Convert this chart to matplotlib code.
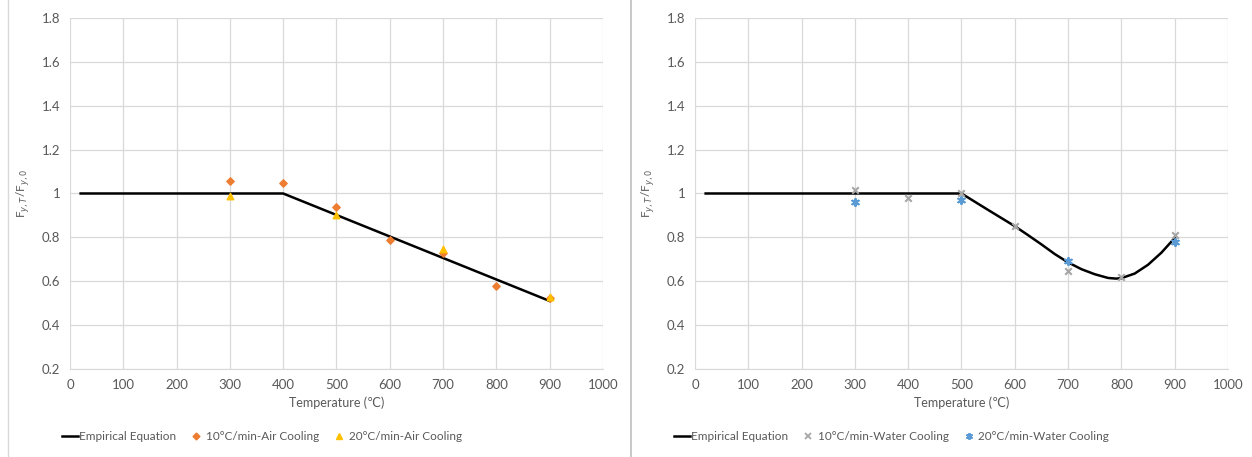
import matplotlib
matplotlib.use("Agg")
import matplotlib.pyplot as plt
from matplotlib.lines import Line2D

plt.rcParams['font.family'] = ['Lato', 'DejaVu Sans']

# Air cooling panel
air_eq_x = [20, 400, 900]
air_eq_y = [1.0, 1.0, 0.51]
air10_x = [300, 400, 500, 600, 700, 800, 900]
air10_y = [1.055, 1.05, 0.94, 0.79, 0.73, 0.58, 0.525]
air20_x = [300, 500, 700, 900]
air20_y = [0.99, 0.90, 0.745, 0.53]

# Water cooling panel
water_eq_x = [20, 500, 550, 600, 625, 650, 675, 700, 725, 750, 775, 790, 800, 825, 850, 875, 900]
water_eq_y = [1.0, 1.0, 0.925, 0.851, 0.81, 0.768, 0.724, 0.686, 0.655, 0.632, 0.615, 0.612,
              0.614, 0.635, 0.675, 0.73, 0.797]
water10_x = [300, 400, 500, 600, 700, 800, 900]
water10_y = [1.015, 0.98, 1.0, 0.85, 0.646, 0.62, 0.81]
water20_x = [300, 500, 700, 900]
water20_y = [0.96, 0.97, 0.69, 0.78]

x_ticks = list(range(0, 1001, 100))
y_ticks = [0.2, 0.4, 0.6, 0.8, 1.0, 1.2, 1.4, 1.6, 1.8]
y_labels = ["0.2", "0.4", "0.6", "0.8", "1", "1.2", "1.4", "1.6", "1.8"]

fig = plt.figure(figsize=(12.52, 4.57), dpi=100)
ax1 = fig.add_axes([0.0559, 0.1926, 0.4257, 0.768])
ax2 = fig.add_axes([0.5551, 0.1926, 0.4257, 0.768])

txt = "#595959"
grid = "#D9D9D9"


def style(ax):
    ax.set_xlim(0, 1000)
    ax.set_ylim(0.2, 1.8)
    ax.set_xticks(x_ticks)
    ax.set_yticks(y_ticks)
    ax.set_yticklabels(y_labels)
    ax.grid(True, color=grid, linewidth=0.9)
    ax.set_axisbelow(True)
    for s in ["top", "right", "left"]:
        ax.spines[s].set_visible(False)
    ax.spines["bottom"].set_color(grid)
    ax.tick_params(length=0, colors=txt, labelsize=9.5, pad=7)
    ax.set_xlabel("Temperature (℃)", color=txt, fontsize=9, labelpad=4)
    ax.set_ylabel("F$_{y,T}$/F$_{y,0}$", color=txt, fontsize=8.5, labelpad=8)


style(ax1)
style(ax2)

ax1.plot(air_eq_x, air_eq_y, color="black", lw=1.8, zorder=2)
ax1.scatter(air10_x, air10_y, marker="D", s=14, color="#ED7D31", zorder=3)
ax1.scatter(air20_x, air20_y, marker="^", s=22, color="#FFC000", zorder=3)

ax2.plot(water_eq_x, water_eq_y, color="black", lw=1.8, zorder=2)
ax2.scatter(water10_x, water10_y, marker="x", s=22, color="#A5A5A5", linewidths=1.5, zorder=3)
ax2.scatter(water20_x, water20_y, marker=(6, 2, 0), s=26, color="#5B9BD5", linewidths=1.5, zorder=4)

h1 = [Line2D([], [], color="black", lw=1.8),
      Line2D([], [], ls="", marker="D", ms=3.5, color="#ED7D31"),
      Line2D([], [], ls="", marker="^", ms=4.5, color="#FFC000")]
l1 = ["Empirical Equation", "10°C/min-Air Cooling", "20°C/min-Air Cooling"]
h2 = [Line2D([], [], color="black", lw=1.8),
      Line2D([], [], ls="", marker="x", ms=4.5, mew=1.3, color="#A5A5A5"),
      Line2D([], [], ls="", marker=(6, 2, 0), ms=5, mew=1.3, color="#5B9BD5")]
l2 = ["Empirical Equation", "10°C/min-Water Cooling", "20°C/min-Water Cooling"]

for h, l, cx in [(h1, l1, 0.209), (h2, l2, 0.712)]:
    fig.legend(h, l, loc="center", bbox_to_anchor=(cx, 0.045), ncol=3, frameon=False,
               fontsize=8.5, labelcolor=txt, handlelength=1.4, handletextpad=0.1,
               columnspacing=1.0)

# panel borders
fig.add_artist(Line2D([0.006, 0.006], [0, 1], color="#D9D9D9", lw=1))
fig.add_artist(Line2D([0.504, 0.504], [0, 1], color="#BFBFBF", lw=1.2))

fig.savefig("out.png", dpi=100)
